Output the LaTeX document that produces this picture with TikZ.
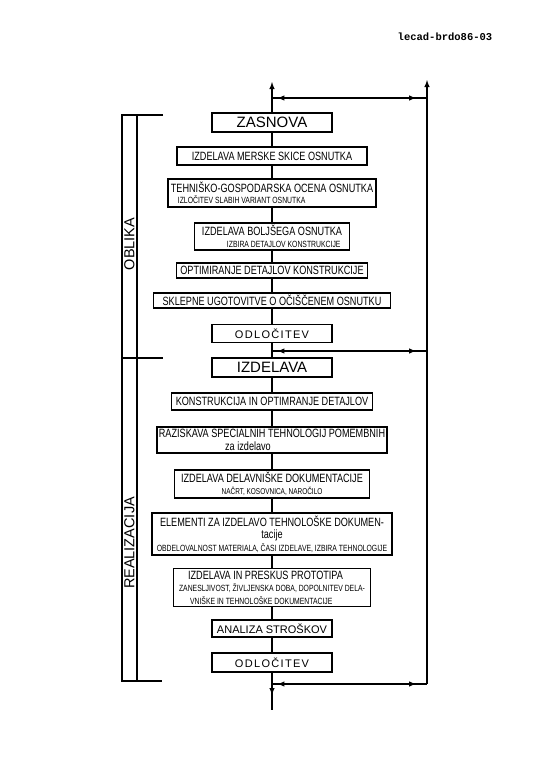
\documentclass[tikz,border=0pt]{standalone}
\usepackage{fontspec}
\setmainfont{Liberation Sans}
\setmonofont{Liberation Mono}
\newfontfamily\ozko[FakeStretch=0.76]{Liberation Sans}
\newfontfamily\redko[LetterSpace=12]{Liberation Sans}
\usetikzlibrary{decorations.markings}
\newcommand\malo{\fontsize{9}{9.5}\selectfont}

\tikzset{
  blok/.style={draw, line width=1.3pt, inner xsep=2pt, inner ysep=2pt,
    font=\ozko\fontsize{12}{12.5}\selectfont, align=center},
  naslov/.style={blok, font=\fontsize{15}{17}\selectfont,
    minimum width=120pt, minimum height=19pt},
  odlocitev/.style={blok, font=\redko\fontsize{11}{12}\selectfont,
    minimum width=120pt, minimum height=18pt},
  crta/.style={line width=1.4pt},
  povratna/.style={crta, postaction={decorate},
    decoration={markings,
      mark=at position 0.08 with {\arrow{latex reversed}},
      mark=at position 0.93 with {\arrow{latex}}}},
}

\begin{document}
\begin{tikzpicture}[x=1pt, y=-1pt]
            \fill[white] (0,0) rectangle (543,768);
            \useasboundingbox (0,0) rectangle (543,768);

            \node[font=\ttfamily\bfseries\fontsize{10.5}{12}\selectfont] (oznaka) at (445,37) {lecad-brdo86-03};

            \node[naslov] (zas) at (272,122.5) {ZASNOVA};
            \node[blok, minimum width=190pt, minimum height=18pt] (mer) at (272,156) {IZDELAVA MERSKE SKICE OSNUTKA};
            \node[blok, line width=2.2pt, inner xsep=1.5pt, align=left, minimum width=208pt, minimum height=28pt] (teh) at (272,193) {TEHNIŠKO-GOSPODARSKA OCENA OSNUTKA\\[-1pt]\malo\hspace*{7pt}IZLOČITEV SLABIH VARIANT OSNUTKA};
            \node[blok, align=left, minimum width=155pt, minimum height=27pt] (bol) at (272,236.5) {IZDELAVA BOLJŠEGA OSNUTKA\\ \malo\hspace*{25pt}IZBIRA DETAJLOV KONSTRUKCIJE};
            \node[blok, minimum width=191pt, minimum height=15pt] (opt) at (272,270.5) {OPTIMIRANJE DETAJLOV KONSTRUKCIJE};
            \node[blok, minimum width=237pt, minimum height=15pt] (skl) at (272,300.5) {SKLEPNE UGOTOVITVE O OČIŠČENEM OSNUTKU};
            \node[odlocitev] (odl1) at (272,333.5) {ODLOČITEV};

            \node[naslov] (izd) at (272,367.5) {IZDELAVA};
            \node[blok, minimum width=201pt, minimum height=17pt] (kon) at (272,401.5) {KONSTRUKCIJA IN OPTIMRANJE DETAJLOV};
            \node[blok, minimum width=230pt, minimum height=26pt] (raz) at (272,440) {RAZISKAVA SPECIALNIH TEHNOLOGIJ POMEMBNIH\\ za izdelavo\hspace*{48pt}};
            \node[blok, minimum width=195pt, minimum height=26pt] (del) at (272,484) {IZDELAVA DELAVNIŠKE DOKUMENTACIJE\\ \fontsize{8.5}{9}\selectfont NAČRT, KOSOVNICA, NAROČILO};
            \node[blok, minimum width=240pt, minimum height=42pt] (ele) at (272,534) {ELEMENTI ZA IZDELAVO TEHNOLOŠKE DOKUMEN-\\ tacije\hspace*{34pt}\\ \malo OBDELOVALNOST MATERIALA, ČASI IZDELAVE, IZBIRA TEHNOLOGIJE};
            \node[blok, align=left, minimum width=197pt, minimum height=35pt] (pro) at (272,587.5) {\hspace*{9pt}IZDELAVA IN PRESKUS PROTOTIPA\\ \malo ZANESLJIVOST, ŽIVLJENSKA DOBA, DOPOLNITEV DELA-\\ \malo\hspace*{11pt}VNIŠKE IN TEHNOLOŠKE DOKUMENTACIJE};
            \node[blok, font=\fontsize{11}{12}\selectfont, minimum width=120pt, minimum height=17pt] (ana) at (272,628.5) {ANALIZA STROŠKOV};
            \node[odlocitev, minimum height=19pt] (odl2) at (272,662.5) {ODLOČITEV};

            \coordinate (vrh) at (272,82);
            \coordinate (dno) at (272,710);
            \coordinate (desnovrh) at (427,80);
            \coordinate (desnodno) at (427,684);
            \coordinate (p1l) at (272,98);
            \coordinate (p1d) at (427,98);
            \coordinate (p2l) at (272,351);
            \coordinate (p2d) at (427,351);
            \coordinate (p3l) at (272,684);
            \coordinate (p3d) at (427,684);

            \draw[crta, -latex] (zas.north) -- (vrh);
            \foreach \a/\b in {zas/mer, mer/teh, teh/bol, bol/opt, opt/skl, skl/odl1, odl1/izd, izd/kon, kon/raz, raz/del, del/ele, ele/pro, pro/ana, ana/odl2}
              \draw[crta] (\a.south) -- (\b.north);
            \draw[crta, postaction={decorate}, decoration={markings, mark=at position 0.6 with {\arrow{latex}}}] (odl2.south) -- (dno);

            \draw[crta, -latex] (desnodno) -- (desnovrh);
            \draw[povratna] (p1l) -- (p1d);
            \draw[povratna] (p2l) -- (p2d);
            \draw[povratna] (p3l) -- (p3d);

            \draw[crta] (163,115) -- (122,115) -- (122,681) -- (162,681);
            \draw[crta] (137,115) -- (137,681);
            \draw[crta] (122,358) -- (163,358);
            \node[rotate=90, font=\fontsize{14.5}{16}\selectfont] (oblika) at (129.5,244) {OBLIKA};
            \node[rotate=90, font=\fontsize{14.5}{16}\selectfont] (realizacija) at (129.5,543) {REALIZACIJA};
\end{tikzpicture}
\end{document}
